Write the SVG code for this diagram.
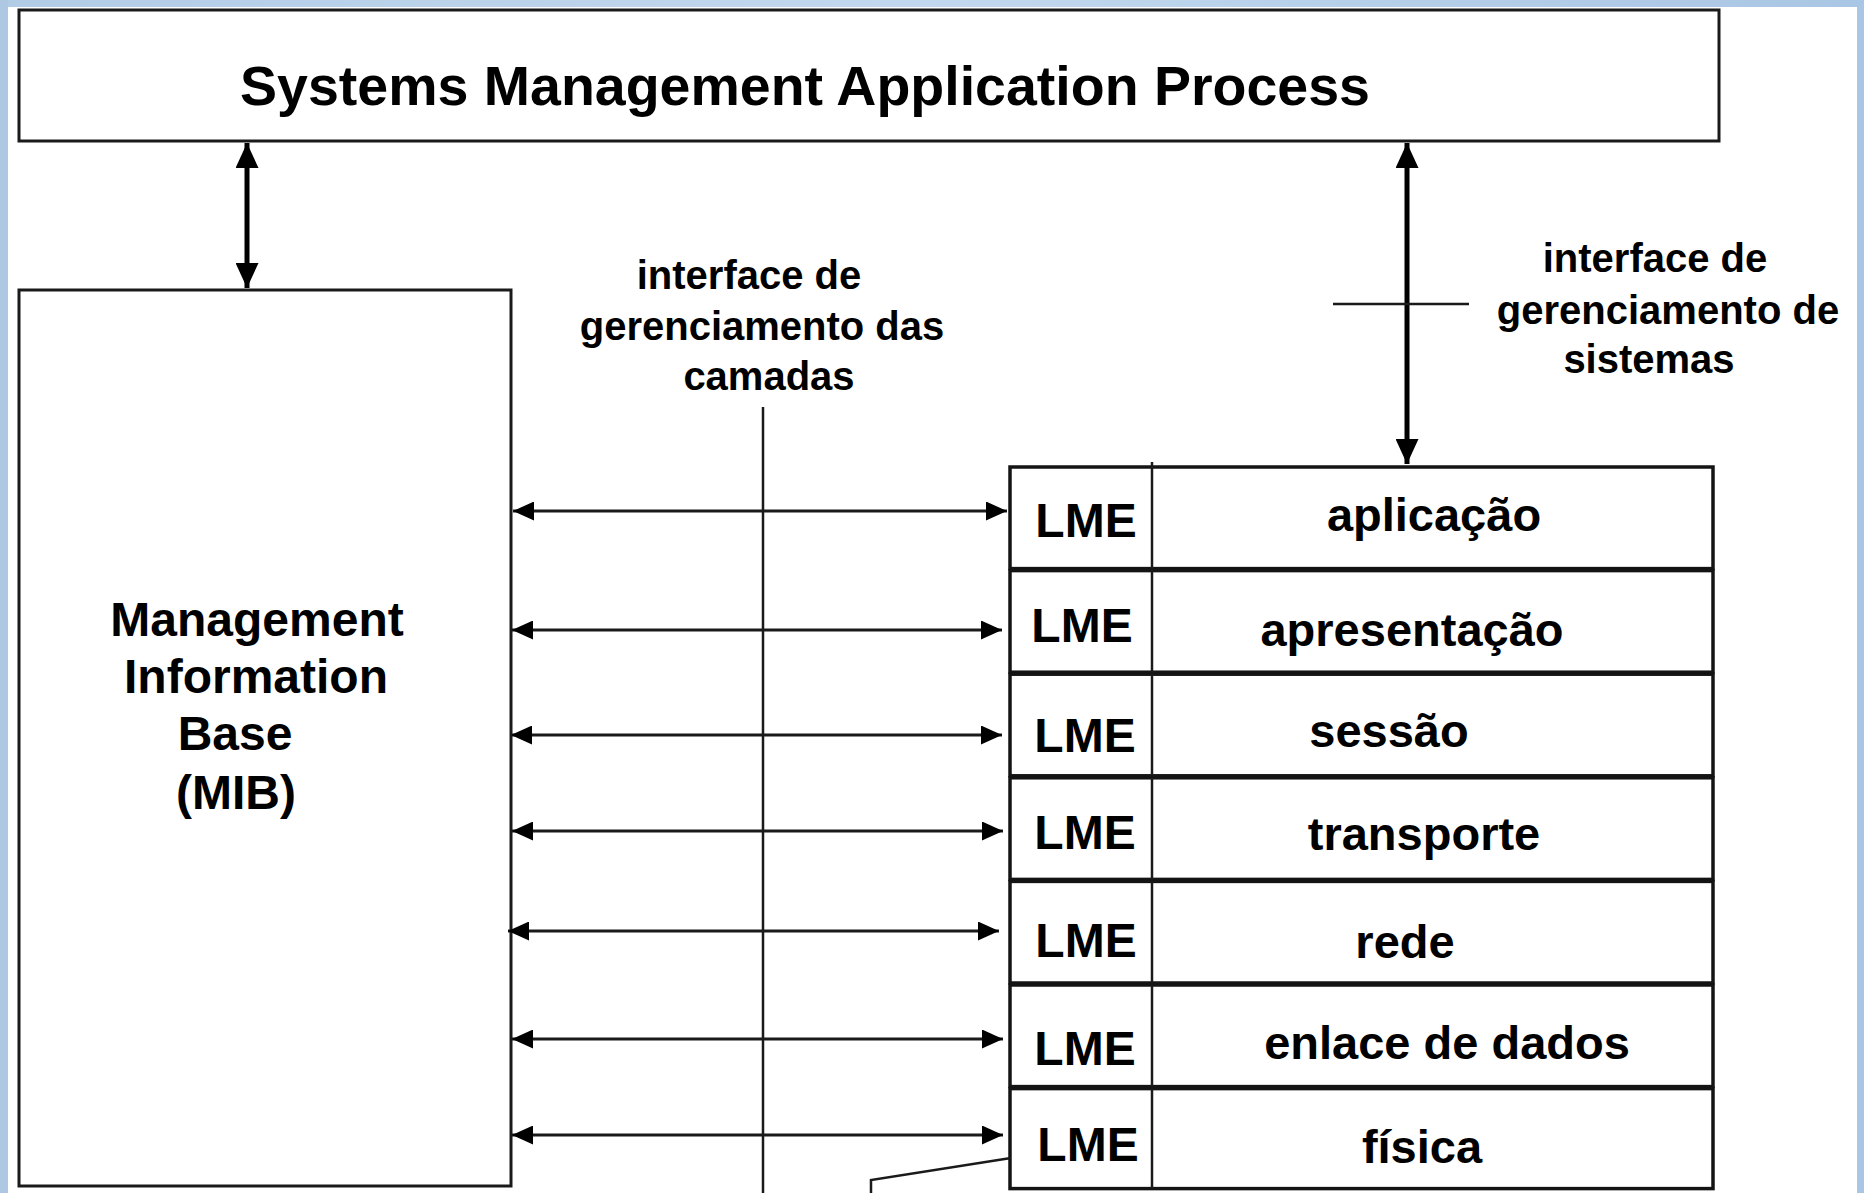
<svg xmlns="http://www.w3.org/2000/svg" width="1864" height="1193" viewBox="0 0 1864 1193">
  <style>
    .box { fill: #ffffff; stroke: #1a1a1a; stroke-width: 3; }
    .row { fill: #ffffff; stroke: #141414; stroke-width: 3.5; }
    .t { font-family: "Liberation Sans", Arial, Helvetica, sans-serif; font-weight: bold; fill: #000; text-anchor: middle; }
    .title { font-size: 55.5px; }
    .mib { font-size: 48px; }
    .lbl { font-size: 40px; }
    .lme { font-size: 48px; }
    .layer { font-size: 47px; }
    .thin { stroke: #1a1a1a; stroke-width: 2.5; fill: none; }
    .harrow { stroke: #1a1a1a; stroke-width: 3; fill: none; marker-start: url(#ah); marker-end: url(#ah); }
    .varrow { stroke: #000; stroke-width: 5; fill: none; marker-start: url(#ahBig); marker-end: url(#ahBig); }
  </style>
  <defs>
    <marker id="ah" markerUnits="userSpaceOnUse" markerWidth="21" markerHeight="19" refX="21" refY="9.5" orient="auto-start-reverse">
      <path d="M0,0 L21,9.5 L0,19 Z" fill="#000"/>
    </marker>
    <marker id="ahBig" markerUnits="userSpaceOnUse" markerWidth="25" markerHeight="23" refX="25" refY="11.5" orient="auto-start-reverse">
      <path d="M0,0 L25,11.5 L0,23 Z" fill="#000"/>
    </marker>
    <linearGradient id="bgTop" x1="0" y1="0" x2="1" y2="0">
      <stop offset="0" stop-color="#b3cce6"/>
      <stop offset="0.5" stop-color="#c2d8ee"/>
      <stop offset="1" stop-color="#a9c6e4"/>
    </linearGradient>
  </defs>

  <!-- background frame -->
  <rect x="0" y="0" width="1864" height="1193" fill="#ffffff"/>
  <rect x="0" y="0" width="1864" height="7" fill="url(#bgTop)"/>
  <rect x="0" y="0" width="8" height="1193" fill="#aec8e4"/>
  <rect x="1857" y="0" width="7" height="1193" fill="#a9c6e4"/>

  <!-- Systems Management Application Process -->
  <g id="smap">
    <rect class="box" x="19" y="10" width="1700" height="131"/>
    <text class="t title" x="805" y="105">Systems Management Application Process</text>
  </g>

  <!-- Management Information Base -->
  <g id="mib">
    <rect class="box" x="19" y="290" width="492" height="896"/>
    <text class="t mib" x="257" y="636">Management</text>
    <text class="t mib" x="256" y="693">Information</text>
    <text class="t mib" x="235" y="750">Base</text>
    <text class="t mib" x="236" y="809">(MIB)</text>
  </g>

  <!-- labels -->
  <g id="label-camadas">
    <text class="t lbl" x="749" y="289">interface de</text>
    <text class="t lbl" x="762" y="340">gerenciamento das</text>
    <text class="t lbl" x="769" y="390">camadas</text>
  </g>
  <g id="label-sistemas">
    <text class="t lbl" x="1655" y="272">interface de</text>
    <text class="t lbl" x="1668" y="324">gerenciamento de</text>
    <text class="t lbl" x="1649" y="373">sistemas</text>
  </g>

  <!-- layer stack -->
  <g id="layer-aplicacao">
    <rect class="row" x="1010" y="467" width="703" height="101.6"/>
    <line class="thin" x1="1152" y1="462" x2="1152" y2="568.6"/>
    <text class="t lme" x="1086" y="537">LME</text>
    <text class="t layer" x="1434" y="531">aplicação</text>
  </g>
  <g id="layer-apresentacao">
    <rect class="row" x="1010" y="570.6" width="703" height="101.6"/>
    <line class="thin" x1="1152" y1="570.6" x2="1152" y2="672.2"/>
    <text class="t lme" x="1082" y="642">LME</text>
    <text class="t layer" x="1412" y="646">apresentação</text>
  </g>
  <g id="layer-sessao">
    <rect class="row" x="1010" y="674.2" width="703" height="101.6"/>
    <line class="thin" x1="1152" y1="674.2" x2="1152" y2="775.8"/>
    <text class="t lme" x="1085" y="752">LME</text>
    <text class="t layer" x="1389" y="747">sessão</text>
  </g>
  <g id="layer-transporte">
    <rect class="row" x="1010" y="777.8" width="703" height="101.6"/>
    <line class="thin" x1="1152" y1="777.8" x2="1152" y2="879.4"/>
    <text class="t lme" x="1085" y="849">LME</text>
    <text class="t layer" x="1424" y="850">transporte</text>
  </g>
  <g id="layer-rede">
    <rect class="row" x="1010" y="881.4" width="703" height="101.6"/>
    <line class="thin" x1="1152" y1="881.4" x2="1152" y2="983"/>
    <text class="t lme" x="1086" y="957">LME</text>
    <text class="t layer" x="1405" y="958">rede</text>
  </g>
  <g id="layer-enlace">
    <rect class="row" x="1010" y="985" width="703" height="101.6"/>
    <line class="thin" x1="1152" y1="985" x2="1152" y2="1086.6"/>
    <text class="t lme" x="1085" y="1065">LME</text>
    <text class="t layer" x="1447" y="1059">enlace de dados</text>
  </g>
  <g id="layer-fisica">
    <rect class="row" x="1010" y="1088.6" width="703" height="100"/>
    <line class="thin" x1="1152" y1="1088.6" x2="1152" y2="1188.6"/>
    <text class="t lme" x="1088" y="1161">LME</text>
    <text class="t layer" x="1422" y="1163">física</text>
  </g>

  <!-- connectors -->
  <g id="connectors">
    <line class="varrow" x1="247" y1="143" x2="247" y2="288"/>
    <line class="varrow" x1="1407" y1="143" x2="1407" y2="464"/>
    <line class="thin" x1="1333" y1="304" x2="1469" y2="304"/>
    <line class="thin" x1="763" y1="407" x2="763" y2="1193"/>
    <line class="harrow" x1="513" y1="511" x2="1007" y2="511"/>
    <line class="harrow" x1="512" y1="630" x2="1002" y2="630"/>
    <line class="harrow" x1="511" y1="735" x2="1002" y2="735"/>
    <line class="harrow" x1="512" y1="831" x2="1003" y2="831"/>
    <line class="harrow" x1="508" y1="931" x2="999" y2="931"/>
    <line class="harrow" x1="512" y1="1039" x2="1003" y2="1039"/>
    <line class="harrow" x1="512" y1="1135" x2="1003" y2="1135"/>
    <polyline class="thin" points="1011,1158 871,1180 871,1193"/>
  </g>
</svg>
